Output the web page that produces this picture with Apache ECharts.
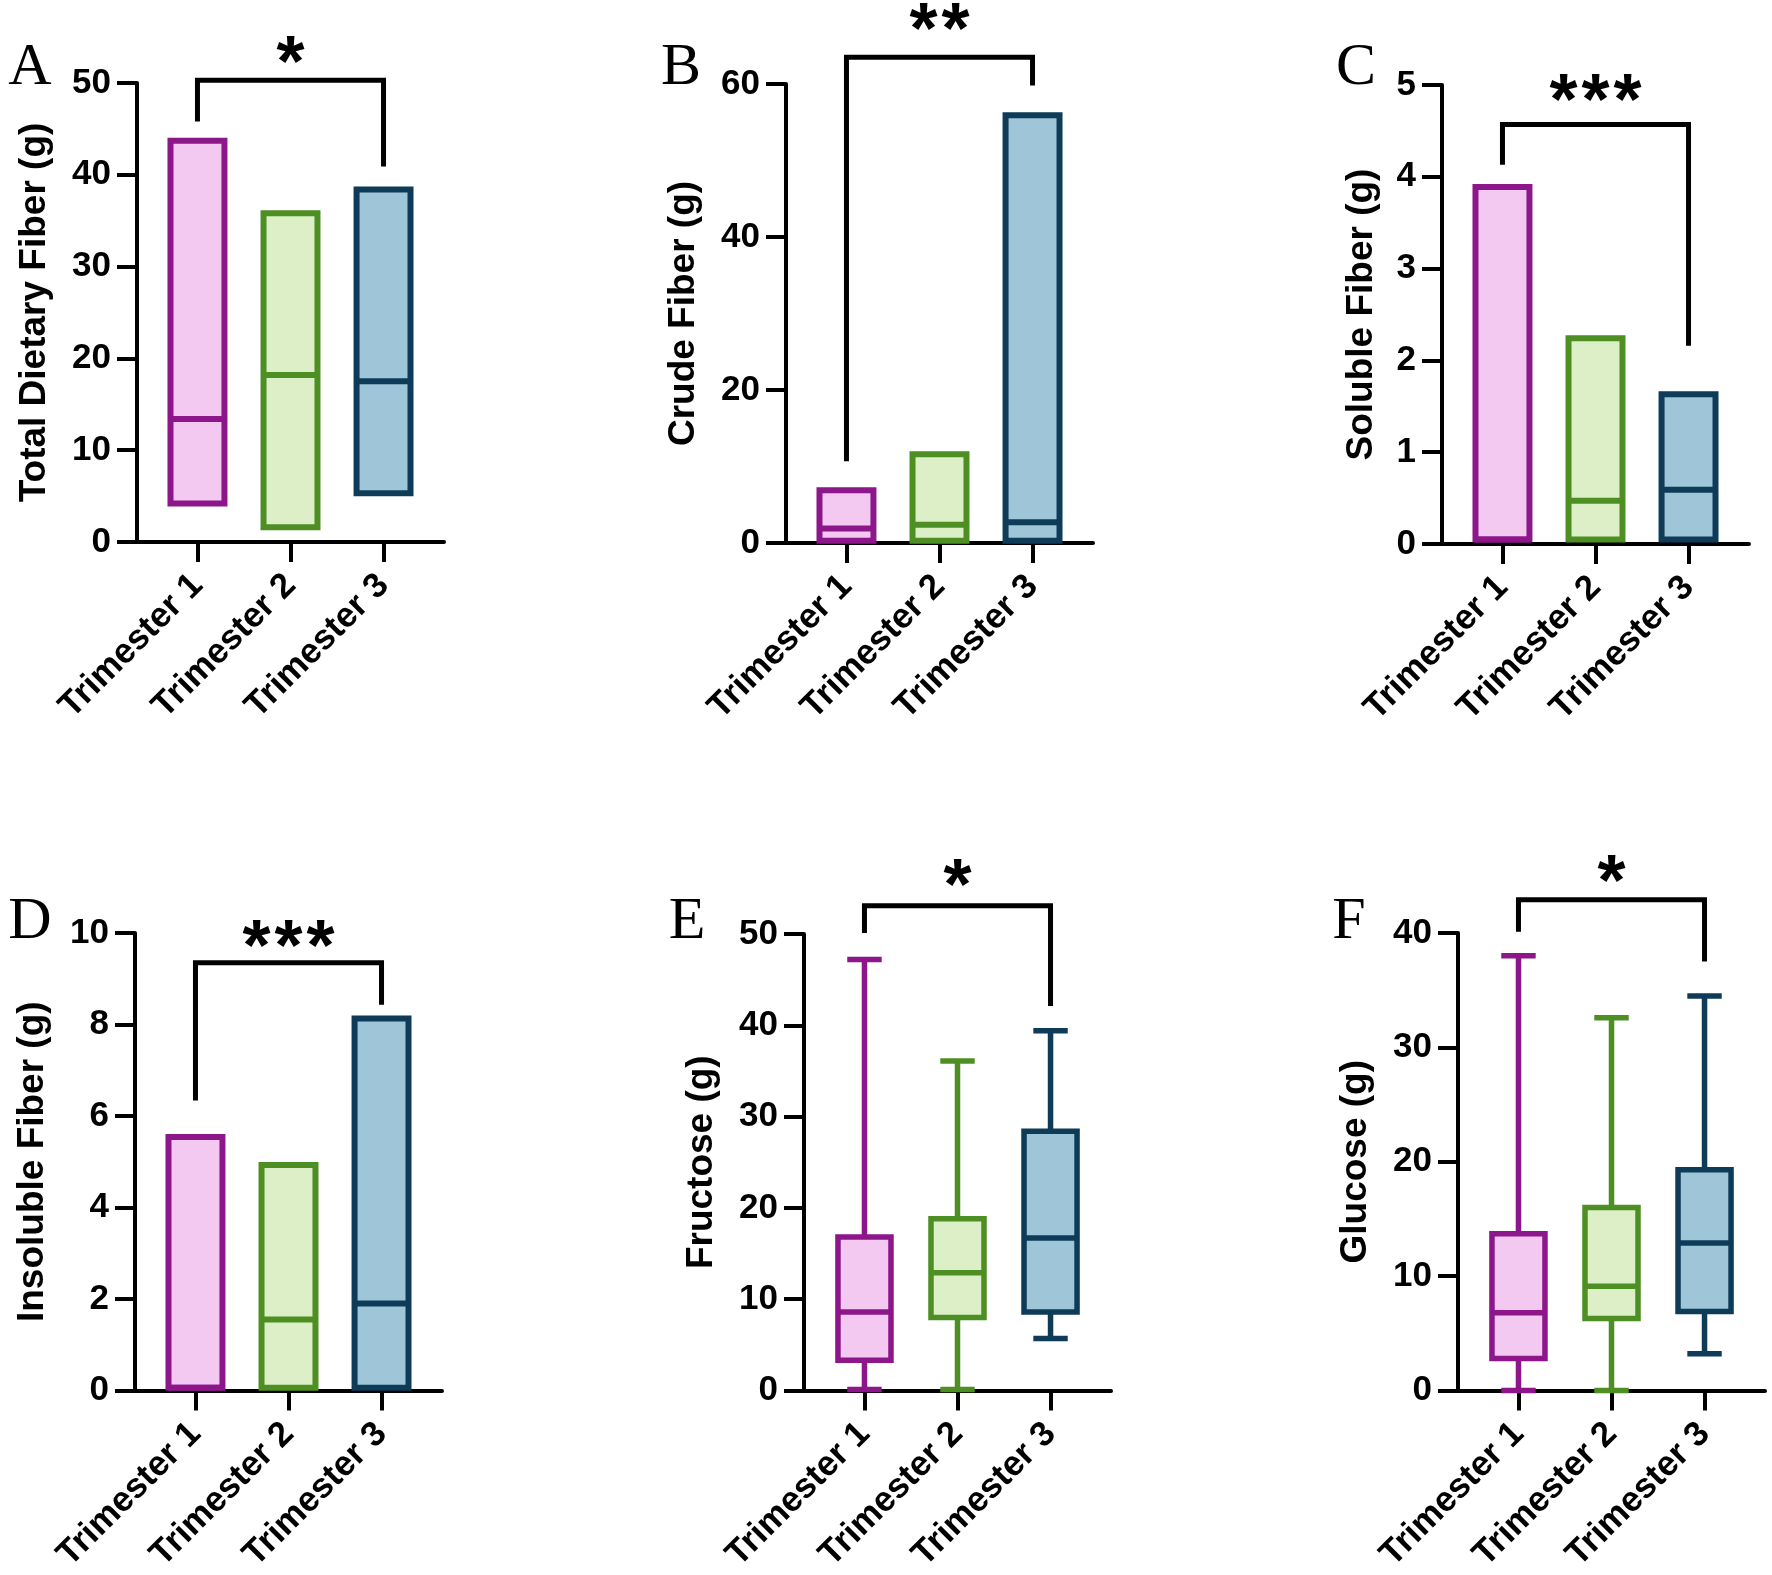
<!DOCTYPE html>
<html lang="en">
<head>
<meta charset="utf-8"/>
<title>Fiber and sugar intake by trimester</title>
<script type="text/javascript" src="https://cdn.jsdelivr.net/npm/echarts@6/dist/echarts.min.js"></script>
<style>
    html, body { margin: 0; padding: 0; background: #fff; }
    #container { width: 1772px; height: 1575px; }
</style>
</head>
<body>
<div id="container"></div>
<script type="text/javascript">
    // categories
    var trimesters = ['Trimester 1', 'Trimester 2', 'Trimester 3'];

    // floating bars (min to max, line at median): [min, median, max]
    var totalFiber     = [[4.2, 13.4, 43.7], [1.6, 18.2, 35.8], [5.3, 17.5, 38.4]];
    var crudeFiber     = [[0.3, 1.9, 6.9], [0.3, 2.4, 11.6], [0.3, 2.7, 55.9]];
    var solubleFiber   = [[0.05, 0.05, 3.89], [0.05, 0.47, 2.24], [0.05, 0.59, 1.63]];
    var insolubleFiber = [[0.06, 0.06, 5.54], [0.06, 1.55, 4.93], [0.06, 1.9, 8.13]];

    // box and whiskers: [min, q1, median, q3, max]
    var fructose = [[0.1, 3.3, 8.6, 16.8, 47.2], [0.1, 8.0, 12.9, 18.8, 36.1], [5.7, 8.6, 16.7, 28.4, 39.4]];
    var glucose  = [[0, 2.8, 6.8, 13.7, 38.0], [0, 6.3, 9.1, 16.0, 32.6], [3.2, 6.9, 12.9, 19.3, 34.5]];

    // y axis ranges
    var axisMax  = [50, 60, 5, 10, 50, 40];
    var axisStep = [10, 20, 1, 2, 10, 10];
    var axisNames = ['Total Dietary Fiber (g)', 'Crude Fiber (g)', 'Soluble Fiber (g)',
                     'Insoluble Fiber (g)', 'Fructose (g)', 'Glucose (g)'];

    // significance brackets T1 vs T3: [bar level, left leg end, right leg end, star level]
    var brackets = [[50.3, 45.8, 40.9, 53.1], [63.5, 10.7, 59.8, 68.2], [4.57, 4.13, 2.16, 4.92],
                    [9.35, 6.34, 8.43, 9.88], [53.1, 50.1, 42.1, 56.2], [42.9, 40.1, 37.5, 45.2]];
    var sigLabels = ['*', '**', '***', '***', '*', '*'];
    var letters = ['A', 'B', 'C', 'D', 'E', 'F'];

    var borderColors = ['#8C168A', '#4E8F24', '#0E3B58'];
    var fillColors = ['#F3C9F1', '#DDEFC6', '#9EC6D8'];
    var font = '"Liberation Sans", Arial, sans-serif';

    var panels = [
        {kind: 'bar', values: totalFiber,     left: 137,  top: 83,  gap: 84, lx: 30,   ly: 68},
        {kind: 'bar', values: crudeFiber,     left: 786,  top: 84,  gap: 84, lx: 681,  ly: 68},
        {kind: 'bar', values: solubleFiber,   left: 1442, top: 85,  gap: 62, lx: 1356, ly: 68},
        {kind: 'bar', values: insolubleFiber, left: 135,  top: 933, gap: 84, lx: 30,   ly: 922},
        {kind: 'box', values: fructose,       left: 804,  top: 934, gap: 84, lx: 687,  ly: 922},
        {kind: 'box', values: glucose,        left: 1458, top: 933, gap: 84, lx: 1349, ly: 922}
    ];

    function floatingBar(params, api) {
        var i = params.dataIndex;
        var x = api.value(0);
        var lo = api.coord([x, api.value(1)]);
        var med = api.coord([x, api.value(2)]);
        var hi = api.coord([x, api.value(3)]);
        var w = api.size([1, 0])[0] * 0.58;
        return {type: 'group', children: [
            {type: 'rect', shape: {x: lo[0] - w / 2, y: hi[1], width: w, height: lo[1] - hi[1]},
             style: {fill: fillColors[i], stroke: borderColors[i], lineWidth: 6}},
            {type: 'line', shape: {x1: lo[0] - w / 2, y1: med[1], x2: lo[0] + w / 2, y2: med[1]},
             style: {stroke: borderColors[i], lineWidth: 6}}
        ]};
    }

    function boxWhisker(params, api) {
        var i = params.dataIndex;
        var x = api.value(0);
        var pMin = api.coord([x, api.value(1)]);
        var pQ1 = api.coord([x, api.value(2)]);
        var pMed = api.coord([x, api.value(3)]);
        var pQ3 = api.coord([x, api.value(4)]);
        var pMax = api.coord([x, api.value(5)]);
        var band = api.size([1, 0])[0];
        var w = band * 0.57, cap = band * 0.37;
        var cx = pMin[0];
        var st = {stroke: borderColors[i], lineWidth: 5.5};
        return {type: 'group', children: [
            {type: 'line', shape: {x1: cx, y1: pMin[1], x2: cx, y2: pQ1[1]}, style: st},
            {type: 'line', shape: {x1: cx, y1: pQ3[1], x2: cx, y2: pMax[1]}, style: st},
            {type: 'line', shape: {x1: cx - cap / 2, y1: pMin[1], x2: cx + cap / 2, y2: pMin[1]}, style: st},
            {type: 'line', shape: {x1: cx - cap / 2, y1: pMax[1], x2: cx + cap / 2, y2: pMax[1]}, style: st},
            {type: 'rect', shape: {x: cx - w / 2, y: pQ3[1], width: w, height: pQ1[1] - pQ3[1]},
             style: {fill: fillColors[i], stroke: borderColors[i], lineWidth: 5.5}},
            {type: 'line', shape: {x1: cx - w / 2, y1: pMed[1], x2: cx + w / 2, y2: pMed[1]}, style: st}
        ]};
    }

    function makeBracket(label) {
        return function (params, api) {
            var level = api.value(0);
            var p1 = api.coord([1, api.value(1)]);
            var p2 = api.coord([1, level]);
            var p3 = api.coord([3, level]);
            var p4 = api.coord([3, api.value(2)]);
            var s = api.coord([2, api.value(3)]);
            var kids = [
                {type: 'polyline', shape: {points: [p1, p2, p3, p4]},
                 style: {stroke: '#000', lineWidth: 5, fill: null, lineJoin: 'miter'}}
            ];
            // stars are spaced a little apart, like the original
            var n = label.length, spacing = 32;
            for (var j = 0; j < n; j++) {
                kids.push({type: 'text', style: {text: label.charAt(j),
                    x: s[0] + (j - (n - 1) / 2) * spacing, y: s[1] + 12, fill: '#000',
                    fontSize: 72, fontWeight: 'bold', fontFamily: font,
                    align: 'center', verticalAlign: 'middle'}});
            }
            return {type: 'group', children: kids};
        };
    }

    var grids = [], xAxes = [], yAxes = [], series = [], graphics = [];
    panels.forEach(function (p, k) {
        grids.push({left: p.left, top: p.top, width: 307, height: 459});
        xAxes.push({
            type: 'value', gridIndex: k, min: 0.35, max: 3.65,
            axisLine: {show: true, onZero: false, lineStyle: {color: '#000', width: 4}},
            axisTick: {show: true, customValues: [1, 2, 3], length: 20, lineStyle: {color: '#000', width: 4}},
            axisLabel: {
                customValues: [1, 2, 3], rotate: 45, margin: 38,
                formatter: function (v) { return trimesters[Math.round(v) - 1]; },
                color: '#000', fontSize: 35, fontWeight: 'bold', fontFamily: font
            },
            splitLine: {show: false}
        });
        yAxes.push({
            type: 'value', gridIndex: k, min: 0, max: axisMax[k], interval: axisStep[k],
            name: axisNames[k], nameLocation: 'middle', nameGap: p.gap,
            nameTextStyle: {color: '#000', fontSize: 37, fontWeight: 'bold', fontFamily: font},
            axisLine: {show: true, onZero: false, lineStyle: {color: '#000', width: 4}},
            axisTick: {show: true, length: 20, lineStyle: {color: '#000', width: 4}},
            axisLabel: {margin: 26, color: '#000', fontSize: 35, fontWeight: 'bold', fontFamily: font},
            splitLine: {show: false}
        });
        var rows = p.values.map(function (v, i) { return [i + 1].concat(v); });
        series.push({
            type: 'custom', xAxisIndex: k, yAxisIndex: k, clip: false,
            renderItem: p.kind === 'bar' ? floatingBar : boxWhisker,
            encode: {x: 0, y: p.kind === 'bar' ? [1, 2, 3] : [1, 2, 3, 4, 5]},
            data: rows
        });
        series.push({
            type: 'custom', xAxisIndex: k, yAxisIndex: k, clip: false,
            renderItem: makeBracket(sigLabels[k]),
            data: [brackets[k]]
        });
        graphics.push({
            type: 'text', x: p.lx, y: p.ly,
            style: {text: letters[k], fill: '#000', fontSize: 60, fontFamily: '"Liberation Serif", "Times New Roman", serif',
                    align: 'center', verticalAlign: 'middle'}
        });
    });

    var myChart = echarts.init(document.getElementById('container'));
    myChart.setOption({
        backgroundColor: '#fff',
        animation: false,
        grid: grids,
        xAxis: xAxes,
        yAxis: yAxes,
        series: series,
        graphic: graphics
    });
</script>
</body>
</html>
